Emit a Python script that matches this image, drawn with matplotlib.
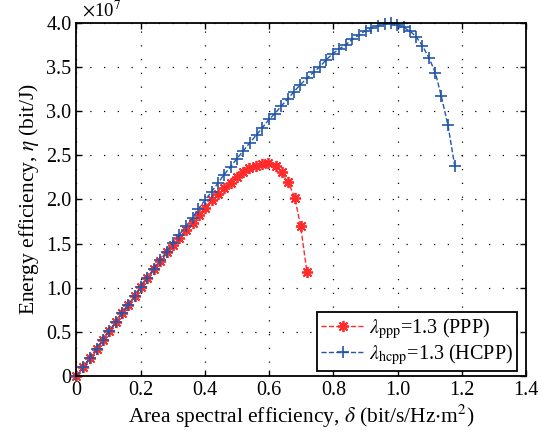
import numpy as np
import matplotlib
matplotlib.use('Agg')
import matplotlib.pyplot as plt

# area spectral efficiency (bit/s/Hz.m^2) and energy efficiency (x1e7 bit/J)
delta_ppp = [0, 0.021, 0.042, 0.063, 0.082, 0.102, 0.122, 0.141, 0.162, 0.182,
             0.200, 0.221, 0.241, 0.260, 0.281, 0.301, 0.320, 0.341, 0.362, 0.382,
             0.400, 0.421, 0.440, 0.459, 0.480, 0.499, 0.519, 0.538, 0.559, 0.578,
             0.597, 0.620, 0.639, 0.659, 0.680, 0.698, 0.718]
eta_ppp = [0, 0.10, 0.21, 0.31, 0.41, 0.51, 0.61, 0.71, 0.81, 0.907,
           1.006, 1.11, 1.21, 1.30, 1.40, 1.48, 1.567, 1.654, 1.737, 1.823,
           1.906, 1.988, 2.057, 2.125, 2.19, 2.257, 2.306, 2.35, 2.38, 2.40,
           2.408, 2.378, 2.313, 2.20, 2.02, 1.70, 1.175]

delta_hcpp = [0, 0.021, 0.042, 0.063, 0.082, 0.102, 0.122, 0.141, 0.162, 0.182,
              0.200, 0.221, 0.241, 0.260, 0.281, 0.300, 0.320, 0.341, 0.362, 0.379,
              0.400, 0.421, 0.440, 0.459, 0.480, 0.499, 0.519, 0.540, 0.561, 0.579,
              0.600, 0.618, 0.638, 0.659, 0.678, 0.695, 0.718, 0.739, 0.758, 0.778,
              0.799, 0.818, 0.839, 0.859, 0.880, 0.901, 0.918, 0.939, 0.960, 0.979,
              0.998, 1.019, 1.040, 1.058, 1.077, 1.098, 1.118, 1.136, 1.157, 1.178]
eta_hcpp = [0, 0.10, 0.21, 0.31, 0.41, 0.51, 0.61, 0.71, 0.81, 0.91,
            1.01, 1.115, 1.215, 1.31, 1.41, 1.503, 1.597, 1.70, 1.793, 1.888,
            1.99, 2.087, 2.18, 2.276, 2.37, 2.457, 2.547, 2.64, 2.73, 2.81,
            2.906, 2.97, 3.057, 3.14, 3.22, 3.29, 3.37, 3.44, 3.50, 3.58,
            3.65, 3.70, 3.75, 3.81, 3.86, 3.91, 3.935, 3.965, 3.98, 3.99,
            3.97, 3.945, 3.90, 3.84, 3.74, 3.60, 3.43, 3.17, 2.84, 2.38]

xticks = [0, 0.2, 0.4, 0.6, 0.8, 1.0, 1.2, 1.4]
xticklabels = ['0', '0.2', '0.4', '0.6', '0.8', '1.0', '1.2', '1.4']
yticks = [0, 0.5, 1.0, 1.5, 2.0, 2.5, 3.0, 3.5, 4.0]
yticklabels = ['0', '0.5', '1.0', '1.5', '2.0', '2.5', '3.0', '3.5', '4.0']

plt.rcParams['font.family'] = 'Liberation Serif'
plt.rcParams['mathtext.fontset'] = 'stix'

fig = plt.figure(figsize=(5.47, 4.34), dpi=100)
ax = fig.add_axes([0.1397, 0.1332, 0.8219, 0.8148])

ax.plot(delta_ppp, eta_ppp, '--', color='#ff2a2a', marker=(8, 2, 0), markersize=8,
        mew=1.3, lw=1.0, label=r'$\lambda_{\rm ppp}$=1.3 (PPP)', clip_on=False)
ax.plot(delta_hcpp, eta_hcpp, '--', color='#2356a8', marker='+', markersize=9,
        mew=1.2, lw=1.0, label=r'$\lambda_{\rm hcpp}$=1.3 (HCPP)', clip_on=False)

ax.set_xlim(0, 1.4)
ax.set_ylim(0, 4.0)
ax.set_xticks(xticks)
ax.set_xticklabels(xticklabels)
ax.set_yticks(yticks)
ax.set_yticklabels(yticklabels)
ax.tick_params(direction='in', top=True, right=True, labelsize=14.5, length=4,
               width=1.0)
ax.grid(True, linestyle=(0, (1, 10)), color='k', lw=0.9)
for s in ax.spines.values():
    s.set_linewidth(1.3)

ax.set_xlabel(r'Area spectral efficiency, $\delta$ (bit/s/Hz$\cdot$m$^2$)', fontsize=15.5,
              labelpad=2)
ax.set_ylabel(r'Energy efficiency, $\eta$ (bit/J)', fontsize=15.5, labelpad=4)
# exponent label above the y axis, like matlab
ax.text(0.012, 1.0185, r'$\times$10$^7$', transform=ax.transAxes, fontsize=13.5,
        ha='left', va='baseline')

leg = ax.legend(loc='lower right', fontsize=14.5, fancybox=False, framealpha=1,
                edgecolor='k', bbox_to_anchor=(517 / 547, (434 - 371) / 434),
                bbox_transform=fig.transFigure, borderaxespad=0, handlelength=2.2,
                borderpad=0.2, labelspacing=0.05, handletextpad=0.2)
leg.get_frame().set_linewidth(1.3)

fig.savefig('out.png', dpi=100)
